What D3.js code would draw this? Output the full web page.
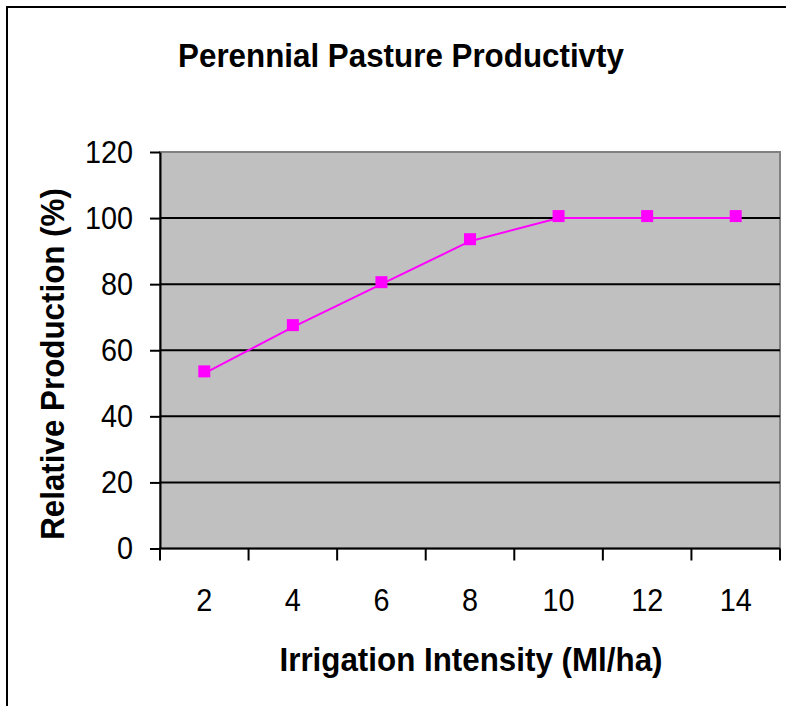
<!DOCTYPE html>
<html>
<head>
<meta charset="utf-8">
<script src="https://cdn.jsdelivr.net/npm/d3@7"></script>
<style>
  html, body { margin: 0; padding: 0; background: #fff; }
  svg { display: block; font-family: "Liberation Sans", Arial, sans-serif; }
</style>
</head>
<body>
<div id="chart"></div>
<script>
// Irrigation intensity (Ml/ha) vs relative production (%)
const intensity = ["2", "4", "6", "8", "10", "12", "14"];
const production = [53, 67, 80, 93, 100, 100, 100];
const yTicks = [0, 20, 40, 60, 80, 100, 120];

const width = 786;
const height = 706;
const plot = { left: 160, right: 780, top: 152, bottom: 548.5 };
const tickSquash = 0.9;   // the reference's Arial renders a bit narrow
const titleSquash = 0.95;

const svg = d3.select("#chart")
  .append("svg")
  .attr("width", width)
  .attr("height", height);

// outer chart frame (right and bottom edges fall outside the picture)
svg.append("rect")
  .attr("x", 7).attr("y", 7)
  .attr("width", width + 20).attr("height", height + 20)
  .attr("fill", "#fff")
  .attr("stroke", "#000")
  .attr("stroke-width", 2);

const x = d3.scaleBand()
  .domain(intensity)
  .range([plot.left, plot.right])
  .padding(0);

const y = d3.scaleLinear()
  .domain([0, 120])
  .range([plot.bottom, plot.top]);

// plot area
svg.append("rect")
  .attr("x", plot.left)
  .attr("y", plot.top)
  .attr("width", plot.right - plot.left)
  .attr("height", plot.bottom - plot.top)
  .attr("fill", "#c0c0c0")
  .attr("stroke", "#808080")
  .attr("stroke-width", 2);

// gridlines
svg.append("g")
  .selectAll("line")
  .data(yTicks.filter((d) => d > 0 && d < 120))
  .join("line")
  .attr("x1", plot.left)
  .attr("x2", plot.right)
  .attr("y1", (d) => y(d))
  .attr("y2", (d) => y(d))
  .attr("stroke", "#000")
  .attr("stroke-width", 2);

const squashText = (sel, k) => sel
  .attr("x", function () { return (+this.getAttribute("x") || 0) / k; })
  .attr("transform", `scale(${k},1)`);

// y axis
const yAxis = svg.append("g")
  .attr("transform", `translate(${plot.left},0)`)
  .call(d3.axisLeft(y).tickValues(yTicks).tickSize(10).tickPadding(17).tickSizeOuter(0));
yAxis.select(".domain").attr("stroke", "#000").attr("stroke-width", 2);
yAxis.selectAll(".tick line").attr("stroke", "#000").attr("stroke-width", 2);
yAxis.selectAll("text")
  .attr("font-size", 32)
  .attr("font-family", "Liberation Sans, Arial, sans-serif")
  .attr("fill", "#000")
  .call(squashText, tickSquash);

// x axis: labels centred in each category, ticks on category boundaries
const xAxis = svg.append("g")
  .attr("transform", `translate(0,${plot.bottom})`)
  .call(d3.axisBottom(x).tickSize(0).tickPadding(40));
xAxis.select(".domain").remove();
xAxis.selectAll("text")
  .attr("font-size", 32)
  .attr("font-family", "Liberation Sans, Arial, sans-serif")
  .attr("fill", "#000")
  .call(squashText, tickSquash);

svg.append("line")
  .attr("x1", plot.left - 1)
  .attr("x2", plot.right)
  .attr("y1", plot.bottom)
  .attr("y2", plot.bottom)
  .attr("stroke", "#000")
  .attr("stroke-width", 2);

svg.append("g")
  .selectAll("line")
  .data(d3.range(intensity.length + 1))
  .join("line")
  .attr("x1", (i) => plot.left + i * x.step())
  .attr("x2", (i) => plot.left + i * x.step())
  .attr("y1", plot.bottom)
  .attr("y2", plot.bottom + 12)
  .attr("stroke", "#000")
  .attr("stroke-width", 2);

// series
const cx = (d, i) => x(intensity[i]) + x.bandwidth() / 2;

svg.append("path")
  .datum(production)
  .attr("fill", "none")
  .attr("stroke", "#ff00ff")
  .attr("stroke-width", 2)
  .attr("d", d3.line().x(cx).y((d) => y(d)));

const markerSize = 12;
svg.append("g")
  .selectAll("rect")
  .data(production)
  .join("rect")
  .attr("x", (d, i) => cx(d, i) - markerSize / 2)
  .attr("y", (d) => y(d) - markerSize / 2 - 2)
  .attr("width", markerSize)
  .attr("height", markerSize)
  .attr("fill", "#ff00ff");

// titles
const boldText = (tx, ty, rot, label) => svg.append("text")
  .attr("transform", `translate(${tx},${ty}) rotate(${rot}) scale(${titleSquash},1)`)
  .attr("text-anchor", "middle")
  .attr("font-size", 33)
  .attr("font-weight", "bold")
  .attr("fill", "#000")
  .text(label);

boldText(401, 67, 0, "Perennial Pasture Productivty");
boldText(471, 671, 0, "Irrigation Intensity (Ml/ha)");
boldText(64, 364, -90, "Relative Production (%)");
</script>
</body>
</html>
